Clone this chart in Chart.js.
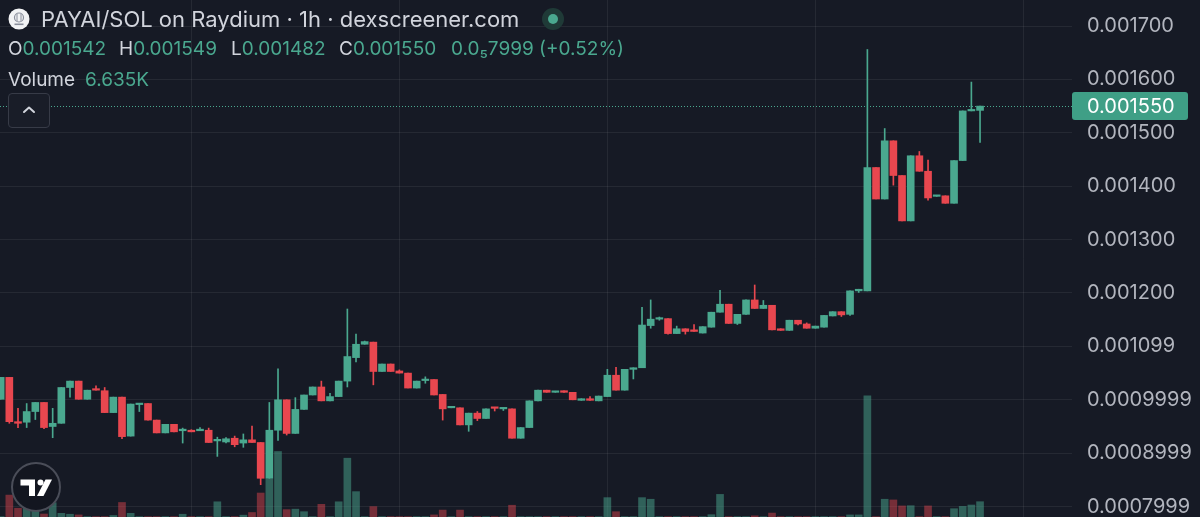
<!DOCTYPE html>
<html>
<head>
<meta charset="utf-8">
<script src="https://cdn.jsdelivr.net/npm/chart.js@4.4.1/dist/chart.umd.min.js"></script>
<style>
  html, body { margin: 0; padding: 0; background: #161a25; }
  #wrap { position: relative; width: 1200px; height: 517px; overflow: hidden; font-family: Inter, "Noto Sans", sans-serif; }
  #chart { position: absolute; left: 0; top: 0; }
  .t { position: absolute; white-space: nowrap; color: #d1d4dc; line-height: 1; }
  .g { color: #4aa88f; }
</style>
</head>
<body>
<div id="wrap">
  <canvas id="chart" width="1200" height="517"></canvas>

  <svg style="position:absolute; left:8px; top:8px" width="22" height="22" viewBox="0 0 22 22">
    <circle cx="11" cy="11" r="10.5" fill="#f2f3f5"/>
    <circle cx="11" cy="9.5" r="4.5" fill="none" stroke="#8a8f9c" stroke-width="1.2"/>
    <line x1="9" y1="6" x2="9" y2="13" stroke="#8a8f9c" stroke-width="1"/>
    <line x1="13" y1="6" x2="13" y2="13" stroke="#8a8f9c" stroke-width="1"/>
    <rect x="6.5" y="15.5" width="9" height="1.6" fill="#8a8f9c"/>
  </svg>
  <div class="t" style="left:41px; top:8px; font-size:22px;">PAYAI/SOL on Raydium · 1h · dexscreener.com</div>
  <svg style="position:absolute; left:542px; top:8px" width="22" height="22" viewBox="0 0 22 22">
    <circle cx="11" cy="11" r="11" fill="#1f3a37"/>
    <circle cx="11" cy="11" r="5" fill="#4aa88f"/>
  </svg>

  <div class="t" style="left:8px; top:39px; font-size:19px;">O<span class="g">0.001542</span></div>
  <div class="t" style="left:119px; top:39px; font-size:19px;">H<span class="g">0.001549</span></div>
  <div class="t" style="left:231px; top:39px; font-size:19px;">L<span class="g">0.001482</span></div>
  <div class="t" style="left:339px; top:39px; font-size:19px;">C<span class="g">0.001550</span></div>
  <div class="t g" style="left:451px; top:39px; font-size:19px;">0.0₅7999 (+0.52%)</div>

  <div class="t" style="left:8px; top:70px; font-size:19px;">Volume<span class="g" style="margin-left:10px">6.635K</span></div>

  <div style="position:absolute; left:8px; top:93px; width:40px; height:33px; border:1px solid #373b47; border-radius:4px; background:#191d28;">
    <svg style="position:absolute; left:13px; top:11px" width="14" height="10" viewBox="0 0 14 10">
      <polyline points="2,7 7,2.5 12,7" fill="none" stroke="#d1d4dc" stroke-width="2" stroke-linecap="round" stroke-linejoin="round"/>
    </svg>
  </div>

  <svg style="position:absolute; left:10px; top:461px" width="52" height="52" viewBox="0 0 52 52">
    <circle cx="26" cy="26" r="24" fill="#131620" stroke="#4a4d58" stroke-width="2"/>
    <path d="M10.5 18.5 H25 V35 H19 V24.5 H10.5 Z" fill="#ffffff"/>
    <circle cx="30.5" cy="21.5" r="3" fill="#ffffff"/>
    <path d="M35.5 18.5 H42 L33.5 35 H27 Z" fill="#ffffff"/>
  </svg>
</div>

<script>
// hourly candles, PAYAI/SOL
const opens = [
  0.001001, 0.001042, 0.000959, 0.000958, 0.000978, 0.000995, 0.000950, 0.000956, 0.001023, 0.001035,
  0.001001, 0.001020, 0.001017, 0.000976, 0.001005, 0.000932, 0.000991, 0.000993, 0.000962, 0.000938,
  0.000954, 0.000942, 0.000943, 0.000942, 0.000943, 0.000923, 0.000921, 0.000928, 0.000919, 0.000925,
  0.000920, 0.000853, 0.000943, 0.001000, 0.000937, 0.000982, 0.001009, 0.001024, 0.000998, 0.001006,
  0.001035, 0.001079, 0.001104, 0.001108, 0.001053, 0.001067, 0.001054, 0.001050, 0.001022, 0.001036,
  0.001038, 0.001010, 0.000985, 0.000985, 0.000953, 0.000975, 0.000965, 0.000986, 0.000983, 0.000983,
  0.000928, 0.000948, 0.000998, 0.001018, 0.001014, 0.001017, 0.001014, 0.000999, 0.001002, 0.000998,
  0.001006, 0.001046, 0.001018, 0.001057, 0.001060, 0.001139, 0.001151, 0.001152, 0.001124, 0.001133,
  0.001131, 0.001125, 0.001136, 0.001164, 0.001179, 0.001143, 0.001160, 0.001187, 0.001171, 0.001177,
  0.001133, 0.001130, 0.001149, 0.001142, 0.001134, 0.001136, 0.001157, 0.001165, 0.001160, 0.001204,
  0.001204, 0.001435, 0.001376, 0.001485, 0.001420, 0.001335, 0.001457, 0.001428, 0.001381, 0.001382,
  0.001368, 0.001448, 0.001541, 0.001542
];
const highs = [
  0.001042, 0.001042, 0.000984, 0.000993, 0.000995, 0.000995, 0.000984, 0.001023, 0.001035, 0.001035,
  0.001018, 0.001026, 0.001023, 0.001005, 0.001005, 0.000992, 0.000993, 0.000993, 0.000962, 0.000954,
  0.000954, 0.000947, 0.000944, 0.000948, 0.000947, 0.000930, 0.000929, 0.000932, 0.000936, 0.000951,
  0.000920, 0.000995, 0.001058, 0.001000, 0.001004, 0.001009, 0.001024, 0.001035, 0.001012, 0.001035,
  0.001170, 0.001123, 0.001110, 0.001108, 0.001067, 0.001067, 0.001056, 0.001050, 0.001035, 0.001043,
  0.001038, 0.001010, 0.000986, 0.000985, 0.000975, 0.000978, 0.000983, 0.000986, 0.000985, 0.000983,
  0.000948, 0.000998, 0.001018, 0.001018, 0.001016, 0.001017, 0.001014, 0.001002, 0.001006, 0.001007,
  0.001057, 0.001061, 0.001057, 0.001060, 0.001173, 0.001187, 0.001155, 0.001152, 0.001138, 0.001133,
  0.001141, 0.001137, 0.001164, 0.001205, 0.001179, 0.001160, 0.001187, 0.001215, 0.001186, 0.001177,
  0.001133, 0.001149, 0.001149, 0.001144, 0.001138, 0.001158, 0.001165, 0.001165, 0.001204, 0.001207,
  0.001656, 0.001435, 0.001508, 0.001485, 0.001420, 0.001457, 0.001465, 0.001449, 0.001383, 0.001382,
  0.001448, 0.001541, 0.001595, 0.001550
];
const lows = [
  0.001001, 0.000956, 0.000948, 0.000948, 0.000963, 0.000946, 0.000929, 0.000956, 0.001005, 0.001001,
  0.001001, 0.001018, 0.000976, 0.000976, 0.000927, 0.000932, 0.000978, 0.000962, 0.000938, 0.000938,
  0.000940, 0.000919, 0.000940, 0.000942, 0.000920, 0.000894, 0.000919, 0.000912, 0.000911, 0.000920,
  0.000841, 0.000853, 0.000924, 0.000934, 0.000937, 0.000982, 0.001009, 0.000998, 0.000998, 0.001006,
  0.001024, 0.001071, 0.001104, 0.001028, 0.001053, 0.001053, 0.001050, 0.001022, 0.001022, 0.001031,
  0.001009, 0.000962, 0.000985, 0.000953, 0.000941, 0.000961, 0.000965, 0.000979, 0.000980, 0.000928,
  0.000928, 0.000948, 0.000998, 0.001014, 0.001014, 0.001014, 0.001000, 0.000999, 0.000999, 0.000998,
  0.001006, 0.001018, 0.001018, 0.001039, 0.001060, 0.001134, 0.001149, 0.001123, 0.001124, 0.001123,
  0.001128, 0.001125, 0.001136, 0.001164, 0.001143, 0.001141, 0.001160, 0.001171, 0.001171, 0.001131,
  0.001130, 0.001130, 0.001140, 0.001134, 0.001134, 0.001136, 0.001157, 0.001156, 0.001158, 0.001201,
  0.001204, 0.001376, 0.001376, 0.001402, 0.001335, 0.001335, 0.001428, 0.001374, 0.001381, 0.001368,
  0.001368, 0.001448, 0.001541, 0.001482
];
const closes = [
  0.001042, 0.000959, 0.000956, 0.000978, 0.000995, 0.000948, 0.000956, 0.001023, 0.001035, 0.001001,
  0.001018, 0.001018, 0.000976, 0.001005, 0.000931, 0.000992, 0.000993, 0.000962, 0.000938, 0.000954,
  0.000940, 0.000945, 0.000940, 0.000945, 0.000920, 0.000926, 0.000927, 0.000916, 0.000925, 0.000920,
  0.000853, 0.000943, 0.001000, 0.000937, 0.000982, 0.001009, 0.001024, 0.000998, 0.001006, 0.001035,
  0.001081, 0.001104, 0.001109, 0.001053, 0.001067, 0.001053, 0.001050, 0.001022, 0.001035, 0.001038,
  0.001009, 0.000983, 0.000986, 0.000953, 0.000975, 0.000965, 0.000983, 0.000984, 0.000985, 0.000928,
  0.000948, 0.000998, 0.001018, 0.001014, 0.001016, 0.001014, 0.001000, 0.001002, 0.000999, 0.001007,
  0.001046, 0.001018, 0.001057, 0.001060, 0.001140, 0.001151, 0.001153, 0.001124, 0.001133, 0.001128,
  0.001128, 0.001137, 0.001164, 0.001179, 0.001143, 0.001160, 0.001187, 0.001171, 0.001177, 0.001131,
  0.001130, 0.001149, 0.001142, 0.001134, 0.001138, 0.001158, 0.001165, 0.001159, 0.001204, 0.001207,
  0.001435, 0.001376, 0.001485, 0.001420, 0.001335, 0.001457, 0.001428, 0.001378, 0.001383, 0.001368,
  0.001448, 0.001541, 0.001543, 0.001550
];
const volumes = [
  150, 9500, 3800, 3800, 3000, 1300, 6200, 1600, 1200, 900,
  150, 150, 150, 650, 6300, 1600, 150, 150, 150, 150,
  150, 1200, 150, 150, 150, 6600, 150, 150, 800, 1950,
  10400, 16500, 28400, 3200, 3400, 2300, 150, 5500, 150, 6600,
  25500, 11000, 150, 4500, 150, 150, 150, 150, 150, 150,
  900, 3000, 150, 3000, 150, 150, 150, 150, 150, 5100,
  150, 150, 150, 150, 150, 150, 150, 150, 150, 150,
  8400, 2300, 150, 150, 8400, 7700, 150, 150, 150, 150,
  150, 150, 1000, 9800, 150, 150, 150, 500, 150, 1700,
  150, 150, 150, 150, 150, 150, 150, 150, 900, 900,
  52600, 150, 7700, 7400, 4800, 4900, 150, 4800, 150, 150,
  3600, 4600, 5200, 6635
];

const priceTicks = [0.0008, 0.0009, 0.0010, 0.0011, 0.0012, 0.0013, 0.0014, 0.0015, 0.0016, 0.0017];
const priceLabels = ['0.0007999', '0.0008999', '0.0009999', '0.001099', '0.001200',
                     '0.001300', '0.001400', '0.001500', '0.001600', '0.001700'];
const dayTicks = [22, 46, 70, 94, 118]; // one vertical line per 24 candles

const UP = '#4aa88f';
const DOWN = '#e8474f';
const GRID = 'rgba(255,255,255,0.065)';

const idx = opens.map((_, i) => i);
const isUp = idx.map(i => closes[i] >= opens[i]);
const candleColors = isUp.map(u => u ? UP : DOWN);
const volColors = isUp.map(u => u ? 'rgba(74,168,143,0.5)' : 'rgba(232,71,79,0.45)');
const lastClose = closes[closes.length - 1];

// dotted last-price line + tag on the price axis
const lastPrice = {
  id: 'lastPrice',
  afterDatasetsDraw(chart) {
    const { ctx, chartArea, scales } = chart;
    const y = Math.round(scales.y.getPixelForValue(lastClose)) + 0.5;
    ctx.save();
    ctx.strokeStyle = UP;
    ctx.lineWidth = 1;
    ctx.setLineDash([1, 2]);
    ctx.beginPath();
    ctx.moveTo(chartArea.left, y);
    ctx.lineTo(chartArea.right, y);
    ctx.stroke();
    ctx.restore();
  },
  afterDraw(chart) {
    const { ctx, chartArea, scales } = chart;
    const y = scales.y.getPixelForValue(lastClose);
    const x = chartArea.right;
    ctx.save();
    ctx.fillStyle = '#3f9f86';
    ctx.beginPath();
    ctx.roundRect(x, y - 14, 116, 28, 3);
    ctx.fill();
    ctx.fillStyle = '#ffffff';
    ctx.font = '20px Inter, "Noto Sans", sans-serif';
    ctx.textAlign = 'left';
    ctx.textBaseline = 'middle';
    ctx.fillText('0.001550', x + 15, y + 1);
    ctx.restore();
  }
};

new Chart(document.getElementById('chart'), {
  type: 'bar',
  data: {
    datasets: [
      {
        label: 'body',
        data: idx.map(i => ({ x: i, y: [opens[i], closes[i]] })),
        backgroundColor: candleColors,
        barThickness: 7,
        minBarLength: 1.5,
        grouped: false,
        order: 0,
        yAxisID: 'y'
      },
      {
        label: 'wick',
        data: idx.map(i => ({ x: i, y: [lows[i], highs[i]] })),
        backgroundColor: candleColors,
        barThickness: 1,
        grouped: false,
        order: 1,
        yAxisID: 'y'
      },
      {
        label: 'volume',
        data: idx.map(i => ({ x: i, y: volumes[i] })),
        backgroundColor: volColors,
        barThickness: 7,
        grouped: false,
        order: 2,
        yAxisID: 'v'
      }
    ]
  },
  options: {
    responsive: false,
    animation: false,
    layout: { padding: 0 },
    plugins: { legend: { display: false }, tooltip: { enabled: false } },
    scales: {
      x: {
        type: 'linear',
        min: -0.077,
        max: 123.61,
        offset: false,
        grid: { color: GRID, drawTicks: false, offset: false },
        border: { display: false },
        ticks: { display: false },
        afterBuildTicks: s => { s.ticks = dayTicks.map(v => ({ value: v })); }
      },
      y: {
        position: 'right',
        min: 0.0007805,
        max: 0.0017487,
        grid: { color: GRID, drawTicks: false },
        border: { display: false },
        ticks: {
          color: '#b2b5be',
          font: { family: 'Inter, "Noto Sans", sans-serif', size: 20 },
          padding: 15,
          crossAlign: 'near',
          autoSkip: false,
          callback: (v, i) => priceLabels[i]
        },
        afterBuildTicks: s => { s.ticks = priceTicks.map(v => ({ value: v })); },
        afterFit: s => { s.width = 128; s.paddingTop = 0; s.paddingBottom = 0; }
      },
      v: { display: false, min: 0, max: 224200 }
    }
  },
  plugins: [lastPrice]
});
</script>
</body>
</html>
